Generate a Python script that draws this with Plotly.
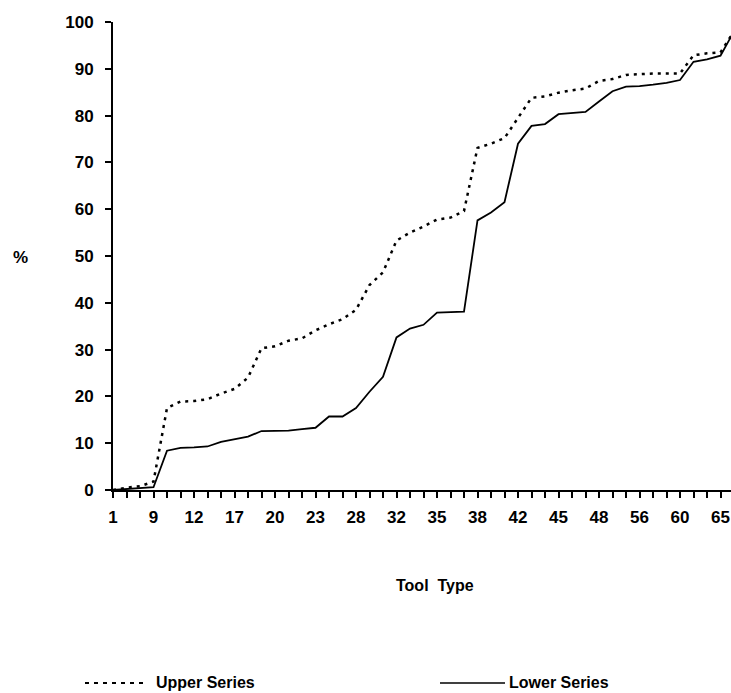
import plotly.graph_objects as go

# Tool-type categories (one per position); labels shown every third position
tick_labels = ["1", "9", "12", "17", "20", "23", "28", "32", "35", "38",
               "42", "45", "48", "56", "60", "65"]
n_points = 47
positions = list(range(n_points))

series_names = ["Upper Series", "Lower Series"]
upper_series = [0, 0.5, 0.8, 1.8, 17.5, 18.9, 19.0, 19.4, 20.6, 21.6,
                24.0, 30.3, 30.7, 31.9, 32.4, 34.1, 35.4, 36.5, 38.5, 43.8,
                46.5, 53.3, 55.0, 56.3, 57.8, 58.2, 59.6, 73.1, 74.0, 75.2,
                79.5, 83.8, 84.1, 84.9, 85.4, 85.8, 87.4, 87.8, 88.7, 88.9,
                89.0, 89.0, 89.0, 92.9, 93.3, 93.5, 98.0]
lower_series = [0, 0.2, 0.4, 0.6, 8.4, 9.0, 9.1, 9.3, 10.3, 10.8,
                11.4, 12.6, 12.6, 12.7, 13.0, 13.3, 15.7, 15.7, 17.5, 21.0,
                24.2, 32.6, 34.5, 35.3, 37.9, 38.0, 38.1, 57.6, 59.3, 61.5,
                74.0, 77.8, 78.2, 80.3, 80.6, 80.8, 83.0, 85.2, 86.2, 86.3,
                86.6, 87.0, 87.6, 91.5, 92.0, 92.8, 98.0]

ticktext = []
for i in positions:
    ticktext.append(tick_labels[i // 3] if i % 3 == 0 and i // 3 < len(tick_labels) else "")

font_family = "Liberation Sans, Arial, sans-serif"
dotted = dict(color="black", width=2.5, dash="3px,5px")
solid = dict(color="black", width=1.8)

fig = go.Figure()
fig.add_trace(go.Scatter(x=positions, y=upper_series, mode="lines",
                         name=series_names[0], line=dotted))
fig.add_trace(go.Scatter(x=positions, y=lower_series, mode="lines",
                         name=series_names[1], line=solid))

W, H = 731, 693
legend_y = 1 - 683 / H

fig.update_layout(
    width=W, height=H,
    margin=dict(l=113, r=0, t=22, b=203, pad=0),
    paper_bgcolor="white", plot_bgcolor="white",
    font=dict(family=font_family, size=16, color="black"),
    showlegend=False,
    shapes=[
        dict(type="line", xref="paper", yref="paper", layer="above",
             x0=(85 - 113) / 618, x1=(148 - 113) / 618,
             y0=-(683 - 490) / 468, y1=-(683 - 490) / 468,
             line=dict(color="black", width=2, dash="4px,5px")),
        dict(type="line", xref="paper", yref="paper", layer="above",
             x0=(440 - 113) / 618, x1=(505 - 113) / 618,
             y0=-(683 - 490) / 468, y1=-(683 - 490) / 468,
             line=dict(color="black", width=1.5)),
    ],
    annotations=[
        dict(text="<b>%</b>", xref="paper", yref="paper", x=-(113 - 20) / 618,
             y=(490 - 257) / 468, xanchor="center", yanchor="middle",
             showarrow=False, font=dict(size=17)),
        dict(text="<b>Tool  Type</b>", xref="paper", yref="paper",
             x=(435 - 113) / 618, y=-(585 - 490) / 468,
             xanchor="center", yanchor="middle", showarrow=False,
             font=dict(size=16)),
        dict(text="<b>" + series_names[0] + "</b>", xref="paper", yref="paper",
             x=(154 - 113) / 618, y=-(683 - 490) / 468,
             xanchor="left", yanchor="middle", showarrow=False,
             font=dict(size=16)),
        dict(text="<b>" + series_names[1] + "</b>", xref="paper", yref="paper",
             x=(507 - 113) / 618, y=-(683 - 490) / 468,
             xanchor="left", yanchor="middle", showarrow=False,
             font=dict(size=16)),
    ],
)

fig.update_xaxes(
    range=[0, (731 - 113) / 13.5],
    tickmode="array", tickvals=positions, ticktext=ticktext,
    ticks="outside", ticklen=6, tickwidth=1.5, tickcolor="black",
    showline=True, linecolor="black", linewidth=2,
    showgrid=False, zeroline=False,
    tickfont=dict(family=font_family, size=17, color="black", weight="bold"),
    ticklabelstandoff=5,
)
fig.update_yaxes(
    range=[0, 100], tickmode="linear", tick0=0, dtick=10,
    ticks="outside", ticklen=6, tickwidth=1.5, tickcolor="black",
    showline=True, linecolor="black", linewidth=2,
    showgrid=False, zeroline=False,
    tickfont=dict(family=font_family, size=17, color="black", weight="bold"),
    ticklabelstandoff=8,
)

fig.write_html("out.html")
